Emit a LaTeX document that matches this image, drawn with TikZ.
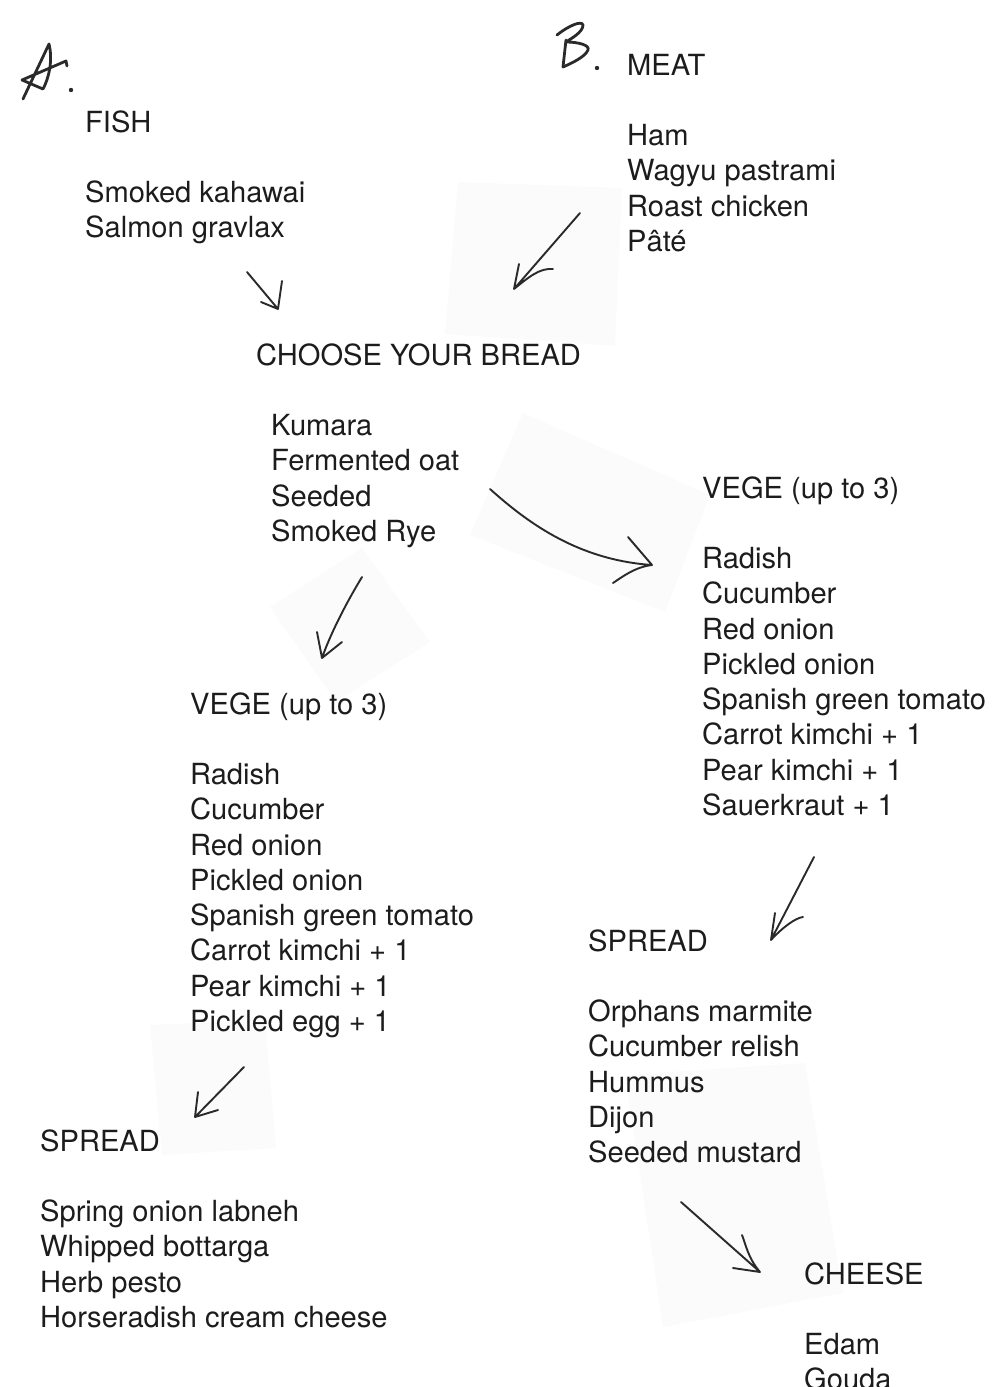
\documentclass[tikz,border=0pt]{standalone}
\usepackage{fontspec}
\setmainfont{TeX Gyre Heros}
\definecolor{ink}{HTML}{1C1C1C}
\definecolor{pencol}{HTML}{2A2A2A}
\definecolor{papercol}{HTML}{FBFBFB}
\tikzset{
  txt/.style={anchor=base west, inner sep=0pt, text=ink, font=\fontsize{29.1}{34}\selectfont},
  pen/.style={draw=pencol, line width=1.9pt, line cap=round, line join=round},
  hand/.style={draw=pencol, line width=2.8pt, line cap=round, line join=round},
  paper/.style={fill=papercol, draw=none},
}
\newcommand\menublock[5]{% prefix, x, header baseline, header, items
  \node[txt] (#1h) at (#2,#3) {#4};
  \foreach \t [count=\k] in {#5} {\node[txt] (#1\k) at (#2,{#3+(\k+1)*35.28}) {\t};}}
\begin{document}
\begin{tikzpicture}[x=1pt,y=-1pt]
\useasboundingbox (0,0) rectangle (994,1387);
% faint paper scraps
\fill[paper] (458,182) -- (622,188) -- (615,346) -- (445,334) -- cycle;
\fill[paper] (523,413) -- (710,495) -- (665,612) -- (470,535) -- cycle;
\fill[paper] (270,607) -- (362,548) -- (430,642) -- (336,702) -- cycle;
\fill[paper] (150,1025) -- (265,1020) -- (276,1148) -- (162,1155) -- cycle;
\fill[paper] (625,1075) -- (805,1063) -- (843,1293) -- (663,1327) -- cycle;

% hand-drawn A.
\draw[hand] (23,99) -- (49,44) .. controls (53,60) and (49,78) .. (43,89) -- (22,80) -- (66,61) -- (67,66);
\fill[pencol] (71,90) circle (2.2pt);
% hand-drawn B.
\draw[hand] (563,67) -- (566,40);
\draw[hand] (557,35) .. controls (568,26) and (582,20) .. (583,25) .. controls (583,32) and (572,38) .. (566,42) .. controls (578,42) and (590,45) .. (588,50) .. controls (585,57) and (572,63) .. (563,67);
\fill[pencol] (597,68) circle (2.2pt);

% text blocks
\menublock{fish}{85}{132}{FISH}{Smoked kahawai,Salmon gravlax}
\menublock{meat}{627}{75}{MEAT}{Ham,Wagyu pastrami,Roast chicken,Pâté}
\node[txt] (breadh) at (256,365) {CHOOSE YOUR BREAD};
\foreach \t [count=\k] in {Kumara,Fermented oat,Seeded,Smoked Rye}
  {\node[txt] (bread\k) at (271,{365+(\k+1)*35.28}) {\t};}
\menublock{vr}{702}{498}{VEGE (up to 3)}{Radish,Cucumber,Red onion,Pickled onion,Spanish green tomato,Carrot kimchi + 1,Pear kimchi + 1,Sauerkraut + 1}
\menublock{vl}{190}{714}{VEGE (up to 3)}{Radish,Cucumber,Red onion,Pickled onion,Spanish green tomato,Carrot kimchi + 1,Pear kimchi + 1,Pickled egg + 1}
\menublock{sr}{588}{951}{SPREAD}{Orphans marmite,Cucumber relish,Hummus,Dijon,Seeded mustard}
\menublock{sl}{40}{1151}{SPREAD}{Spring onion labneh,Whipped bottarga,Herb pesto,Horseradish cream cheese}
\menublock{ch}{804}{1284}{CHEESE}{Edam,Gouda}

% hand-drawn arrows
\coordinate (a1s) at (247,272); \coordinate (a1t) at (278,309);
\draw[pen] (a1s) -- (a1t) -- (282,281) (a1t) -- (261,302);
\coordinate (a2s) at (580,213); \coordinate (a2t) at (514,289);
\draw[pen] (a2s) -- (a2t) -- (519,264) (a2t) .. controls (530,276) and (540,268) .. (553,269);
\coordinate (a3s) at (490,489); \coordinate (a3t) at (652,565);
\draw[pen] (a3s) .. controls (530,525) and (580,560) .. (a3t) -- (628,537) (a3t) .. controls (635,567) and (622,577) .. (613,583);
\coordinate (a4s) at (362,577); \coordinate (a4t) at (322,658);
\draw[pen] (a4s) .. controls (345,605) and (330,635) .. (a4t) -- (317,632) (a4t) -- (342,642);
\coordinate (a5s) at (814,857); \coordinate (a5t) at (771,940);
\draw[pen] (a5s) -- (a5t) -- (775,913) (a5t) .. controls (782,928) and (795,918) .. (803,917);
\coordinate (a6s) at (244,1067); \coordinate (a6t) at (195,1117);
\draw[pen] (a6s) -- (a6t) -- (198,1092) (a6t) -- (218,1110);
\coordinate (a7s) at (681,1202); \coordinate (a7t) at (760,1272);
\draw[pen] (a7s) -- (a7t) .. controls (748,1258) and (746,1245) .. (742,1235) (a7t) -- (733,1268);
\end{tikzpicture}
\end{document}
